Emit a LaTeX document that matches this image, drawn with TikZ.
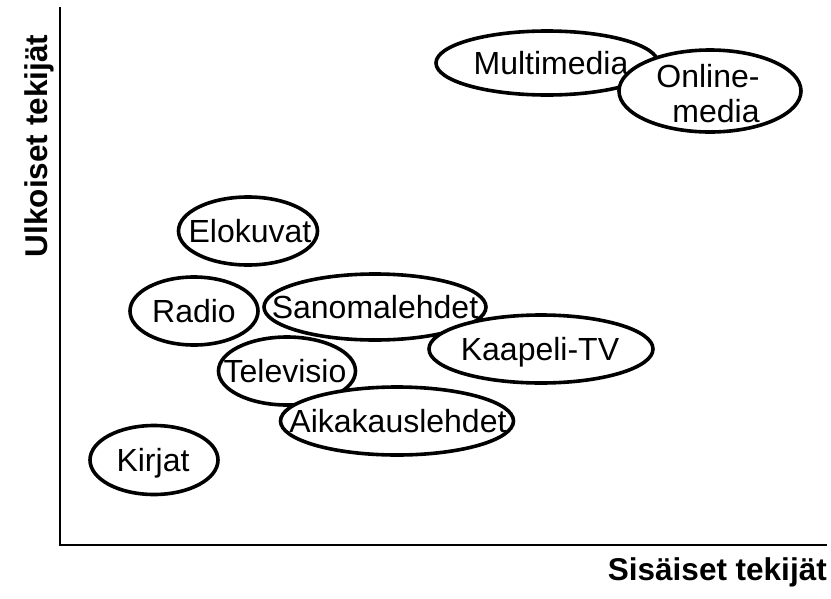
\documentclass[tikz,border=0pt]{standalone}
\usepackage{fontspec}
\setmainfont{Liberation Sans}
\usetikzlibrary{shapes.geometric}
\tikzset{
  blob/.style={ellipse, draw, line width=3.6pt, fill=white, inner sep=0pt},
  lbl/.style={font=\fontsize{32}{36}\selectfont, inner sep=0pt,
    text height=23pt, text depth=0pt},
  axis/.style={line width=1.8pt},
  axislabel/.style={font=\fontsize{31.5}{36}\selectfont\bfseries, inner sep=0pt},
}
\begin{document}
\begin{tikzpicture}[x=1pt, y=-1pt]
\useasboundingbox (0,0) rectangle (831,598);

% axes
\coordinate (ytop) at (60,7);
\coordinate (origin) at (60,545);
\coordinate (xend) at (827,545);
\draw[axis] (ytop) -- (origin) -- (xend);
\node[axislabel, anchor=base east] (xlab) at (827,580) {Sisäiset tekijät};
\node[axislabel, anchor=base, rotate=90] (ylab) at (47,146) {Ulkoiset tekijät};

% media types: outline first, then its name on top
\node[blob, minimum width=222pt, minimum height=64pt] (multi) at (547,63) {};
\node[lbl] (multit) at (551,63) {Multimedia};
\node[blob, minimum width=182pt, minimum height=82pt] (online) at (710,91) {};
\node[lbl, anchor=base] (online1) at (708,87) {Online-};
\node[lbl, anchor=base] (online2) at (716,122) {media};
\node[blob, minimum width=139pt, minimum height=68pt] (elokuvat) at (248,231) {};
\node[lbl] (elokuvatt) at (250,231) {Elokuvat};
\node[blob, minimum width=128pt, minimum height=68pt] (radio) at (194,311) {};
\node[lbl] (radiot) at (194,311) {Radio};
\node[blob, minimum width=137pt, minimum height=68pt] (televisio) at (287,371) {};
\node[lbl] (televisiot) at (285,371) {Televisio};
\node[blob, minimum width=222pt, minimum height=66pt] (sanoma) at (375,307) {};
\node[lbl] (sanomat) at (375,307) {Sanomalehdet};
\node[blob, minimum width=224pt, minimum height=68pt] (kaapeli) at (541,349) {};
\node[lbl] (kaapelit) at (540,349) {Kaapeli-TV};
\node[blob, minimum width=233pt, minimum height=68pt] (aika) at (397,421) {};
\node[lbl] (aikat) at (398,421) {Aikakauslehdet};
\node[blob, minimum width=128pt, minimum height=69pt] (kirjat) at (154,460) {};
\node[lbl] (kirjatt) at (153,460) {Kirjat};
\end{tikzpicture}
\end{document}
